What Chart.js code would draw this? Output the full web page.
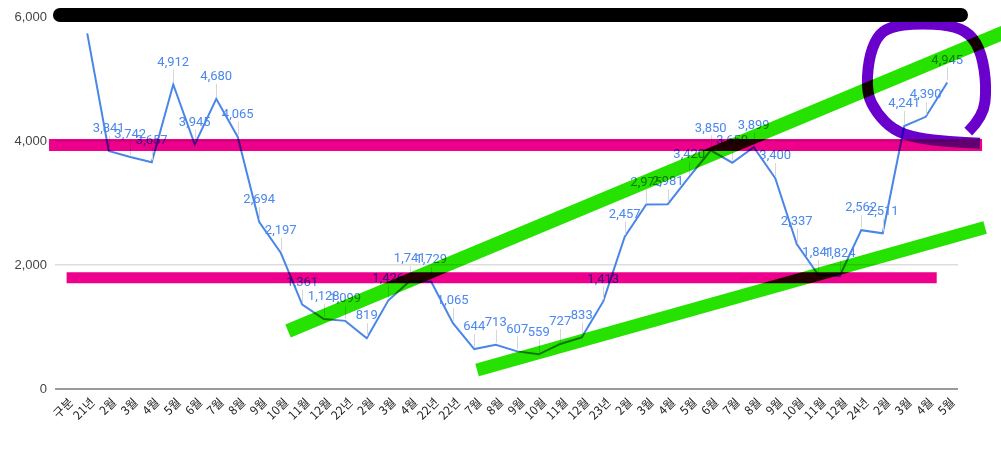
<!DOCTYPE html>
<html>
<head>
<meta charset="utf-8">
<script src="https://cdn.jsdelivr.net/npm/chart.js"></script>
<style>
    html, body { margin: 0; padding: 0; background: #fff; }
    #wrap { width: 1001px; height: 451px; position: relative; }
</style>
</head>
<body>
<div id="wrap"><canvas id="lineChart"></canvas></div>
<script>
// categories (x axis)
var labels = ['구분', '21년', '2월', '3월', '4월', '5월', '6월', '7월', '8월', '9월', '10월', '11월', '12월',
    '22년', '2월', '3월', '4월', '22년', '22년', '7월', '8월', '9월', '10월', '11월', '12월',
    '23년', '2월', '3월', '4월', '5월', '6월', '7월', '8월', '9월', '10월', '11월', '12월',
    '24년', '2월', '3월', '4월', '5월'];

// series values
var counts = [null, 5737, 3841, 3742, 3657, 4912, 3945, 4680, 4065, 2694, 2197, 1361, 1128,
    1099, 819, 1426, 1741, 1729, 1065, 644, 713, 607, 559, 727, 833,
    1413, 2457, 2975, 2981, 3420, 3850, 3650, 3899, 3400, 2337, 1841, 1824,
    2562, 2511, 4241, 4390, 4945];

// y ticks
var yTicks = [0, 2000, 4000, 6000];

// hand-drawn marks, in data space: [category index, value]
var blackBar = [[-0.27, 6032], [41.64, 6032]];
var pinkTop = [[-0.78, 3935], [42.62, 3935]];
var pinkLow = [[0.04, 1794], [40.51, 1794]];
var greenTop = [[10.34, 935], [43.69, 5758]];
var greenLow = [[19.13, 306], [42.76, 2605]];
var purpleLoop = [[41.98, 4150], [42.68, 4392], [42.83, 4876], [42.60, 5415], [42.06, 5737],
    [41.13, 5871], [39.58, 5898], [38.34, 5844], [37.72, 5682], [37.33, 5306], [37.25, 4769],
    [37.72, 4447], [38.49, 4177], [39.58, 4044], [41.13, 3989], [42.52, 3963]];

function numberWithCommas(number) {
    return number.toString().replace(/\B(?=(\d{3})+(?!\d))/g, ",");
}

// value labels with a small stem, like the original
var pointLabels = {
    id: 'pointLabels',
    afterDatasetsDraw: function (chart) {
        var ctx = chart.ctx;
        var meta = chart.getDatasetMeta(0);
        var top = chart.chartArea.top;
        ctx.save();
        ctx.font = '13px Roboto';
        ctx.textAlign = 'center';
        ctx.textBaseline = 'middle';
        meta.data.forEach(function (pt, i) {
            var v = counts[i];
            if (v === null) return;
            // label would fall outside the plot: leave it out
            if (pt.y - 28 < top) return;
            var x = Math.round(pt.x) + 0.5;
            ctx.strokeStyle = '#d6d6d6';
            ctx.lineWidth = 1;
            ctx.beginPath();
            ctx.moveTo(x, pt.y - 2);
            ctx.lineTo(x, pt.y - 15);
            ctx.stroke();
            ctx.fillStyle = '#4a87ee';
            ctx.fillText(numberWithCommas(v), pt.x, pt.y - 22);
        });
        ctx.restore();
    }
};

// marker strokes drawn over the chart
var markers = {
    id: 'markers',
    afterDraw: function (chart) {
        var ctx = chart.ctx;
        var xs = chart.scales.x, ys = chart.scales.y;
        function toPx(p) { return [xs.getPixelForValue(p[0]), ys.getPixelForValue(p[1])]; }
        function stroke(pts, color, width, cap, smooth) {
            var px = pts.map(toPx);
            ctx.strokeStyle = color;
            ctx.lineWidth = width;
            ctx.lineCap = cap;
            ctx.lineJoin = 'round';
            ctx.beginPath();
            ctx.moveTo(px[0][0], px[0][1]);
            if (smooth && px.length > 2) {
                for (var i = 1; i < px.length - 1; i++) {
                    var mx = (px[i][0] + px[i + 1][0]) / 2, my = (px[i][1] + px[i + 1][1]) / 2;
                    ctx.quadraticCurveTo(px[i][0], px[i][1], mx, my);
                }
                var last = px[px.length - 1];
                ctx.lineTo(last[0], last[1]);
            } else {
                for (var j = 1; j < px.length; j++) ctx.lineTo(px[j][0], px[j][1]);
            }
            ctx.stroke();
        }
        ctx.save();
        ctx.globalCompositeOperation = 'multiply';
        stroke(pinkTop, '#ec008c', 12, 'butt');
        stroke(pinkLow, '#ec008c', 11, 'butt');
        stroke(greenTop, '#26e200', 14, 'butt');
        stroke(greenLow, '#26e200', 13, 'butt');
        stroke(purpleLoop, '#6a00cc', 11, 'butt', true);
        stroke(blackBar, '#000000', 14, 'round');
        ctx.restore();
    }
};

const ctx = document.getElementById('lineChart');

var myChart = new Chart(ctx, {
    type: 'line',
    data: {
        labels: labels,
        datasets: [{
            label: '건수',
            data: counts,
            borderColor: '#4a86e8',
            borderWidth: 2,
            pointRadius: 0,
            tension: 0,
            spanGaps: false
        }]
    },
    options: {
        responsive: true,
        maintainAspectRatio: false,
        animation: false,
        layout: {
            padding: { top: 17, right: 43, left: 0, bottom: 0 }
        },
        scales: {
            x: {
                offset: true,
                grid: { display: false, drawTicks: false },
                border: { display: false },
                ticks: {
                    autoSkip: false,
                    maxRotation: 45,
                    minRotation: 45,
                    padding: 6,
                    labelOffset: 5,
                    color: '#222',
                    font: { family: 'Noto Sans CJK KR', size: 12 }
                },
                afterFit: function (scale) { scale.height = 62; }
            },
            y: {
                min: 0,
                max: 6000,
                border: { display: false },
                grid: {
                    drawTicks: false,
                    color: function (c) { return c.tick.value === 0 ? '#9a9a9a' : '#dddddd'; },
                    lineWidth: function (c) { return c.tick.value === 0 ? 2 : 1.5; }
                },
                afterBuildTicks: function (scale) {
                    scale.ticks = yTicks.map(function (v) { return { value: v }; });
                },
                ticks: {
                    padding: 8,
                    color: '#444',
                    font: { family: 'Liberation Sans', size: 13 },
                    callback: function (v) { return numberWithCommas(v); }
                },
                afterFit: function (scale) { scale.width = 55; }
            }
        },
        plugins: {
            legend: { display: false },
            tooltip: { enabled: false }
        }
    },
    plugins: [pointLabels, markers]
});
</script>
</body>
</html>
